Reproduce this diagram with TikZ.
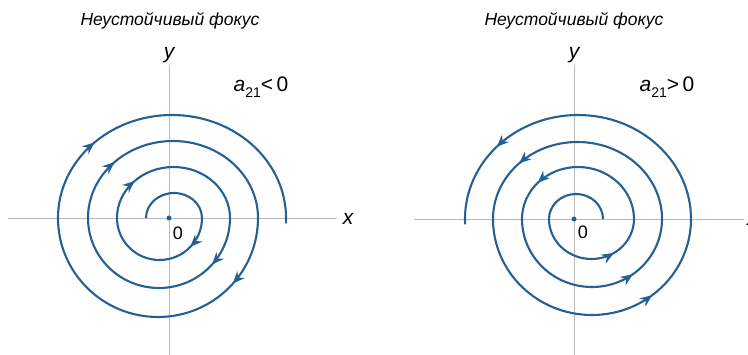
\documentclass[tikz,border=0pt]{standalone}
\usepackage{fontspec}
\setmainfont{Liberation Sans}
\usepackage{tikz}
\usetikzlibrary{arrows.meta, decorations.markings}
\definecolor{spiralblue}{RGB}{36,96,148}
\definecolor{axisgray}{RGB}{185,185,185}
\tikzset{
  axis/.style={color=axisgray, line width=0.9pt},
  spiral/.style={color=spiralblue, line width=2.1pt},
  flow/.style={postaction={decorate}, decoration={markings,
    mark=at position #1 with {\arrow{Stealth[length=12pt,width=10pt]}}}},
  title/.style={font=\fontsize{17.5}{20}\selectfont\itshape, inner sep=0pt},
  axlabel/.style={font=\fontsize{21}{24}\selectfont\itshape, inner sep=0pt},
  coef/.style={font=\fontsize{21}{24}\selectfont, inner sep=0pt, anchor=base},
  num/.style={font=\fontsize{18}{20}\selectfont, inner sep=0pt},
  origin/.style={circle, fill=spiralblue, inner sep=0pt, minimum size=5pt}
}

\begin{document}
\begin{tikzpicture}[x=1pt, y=1pt]
  \useasboundingbox (0,0) rectangle (748,354);
  \clip (0,0) rectangle (748,354);

  % a21 < 0
  \begin{scope}[shift={(169,136)}]
    \draw[axis] (-161,0) -- (168,0);
    \draw[axis] (0,-140) -- (0,153);
    \node[title] (titleL) at (1,197) {Неустойчивый фокус};
    \node[axlabel] (yL) at (0,163) {y};
    \node[axlabel] (xL) at (179,-1) {x};
    \node[coef] (aL) at (92,126) {\textit{a}\raisebox{-6pt}{\fontsize{14}{14}\selectfont 21}<\,0};
    \node[origin] (oL) at (0,0) {};
    \node[num] (zeroL) at (9,-15) {0};
    % spiral, clockwise
    \draw[spiral] (-23,0) arc[start angle=180, end angle=0, x radius=28, y radius=25];
    \draw[spiral, flow=0.24] (33,0) arc[start angle=0, end angle=-180, x radius=42.5, y radius=42];
    \draw[spiral, flow=0.25] (-52,0) arc[start angle=180, end angle=0, x radius=56.5, y radius=51];
    \draw[spiral, flow=0.23] (61,0) arc[start angle=0, end angle=-180, x radius=71, y radius=70];
    \draw[spiral, flow=0.25] (-81,0) arc[start angle=180, end angle=0, x radius=85, y radius=77];
    \draw[spiral, flow=0.23] (89,0) arc[start angle=0, end angle=-180, x radius=100, y radius=99];
    \draw[spiral, flow=0.25] (-111,0) arc[start angle=180, end angle=-3, x radius=114, y radius=103];
  \end{scope}

  % a21 > 0
  \begin{scope}[shift={(574,135)}]
    \draw[axis] (-160,0) -- (170,0);
    \draw[axis] (0,-140) -- (0,154);
    \node[title] (titleR) at (0,198) {Неустойчивый фокус};
    \node[axlabel] (yR) at (0,164) {y};
    \node[axlabel] (xR) at (178,-1) {x};
    \node[coef] (aR) at (93,127) {\textit{a}\raisebox{-6pt}{\fontsize{14}{14}\selectfont 21}>\,0};
    \node[origin] (oR) at (0,0) {};
    \node[num] (zeroR) at (9,-13) {0};
    % spiral, counterclockwise
    \draw[spiral] (29,0) arc[start angle=0, end angle=180, x radius=27, y radius=25];
    \draw[spiral, flow=0.68] (-25,0) arc[start angle=180, end angle=360, x radius=42.5, y radius=40];
    \draw[spiral, flow=0.76] (60,0) arc[start angle=0, end angle=180, x radius=56, y radius=52];
    \draw[spiral, flow=0.7] (-52,0) arc[start angle=180, end angle=360, x radius=70, y radius=68];
    \draw[spiral, flow=0.75] (88,0) arc[start angle=0, end angle=180, x radius=84.5, y radius=77];
    \draw[spiral, flow=0.71] (-81,0) arc[start angle=180, end angle=360, x radius=99, y radius=96];
    \draw[spiral, flow=0.75] (117,0) arc[start angle=0, end angle=183, x radius=113, y radius=104];
  \end{scope}
\end{tikzpicture}
\end{document}
